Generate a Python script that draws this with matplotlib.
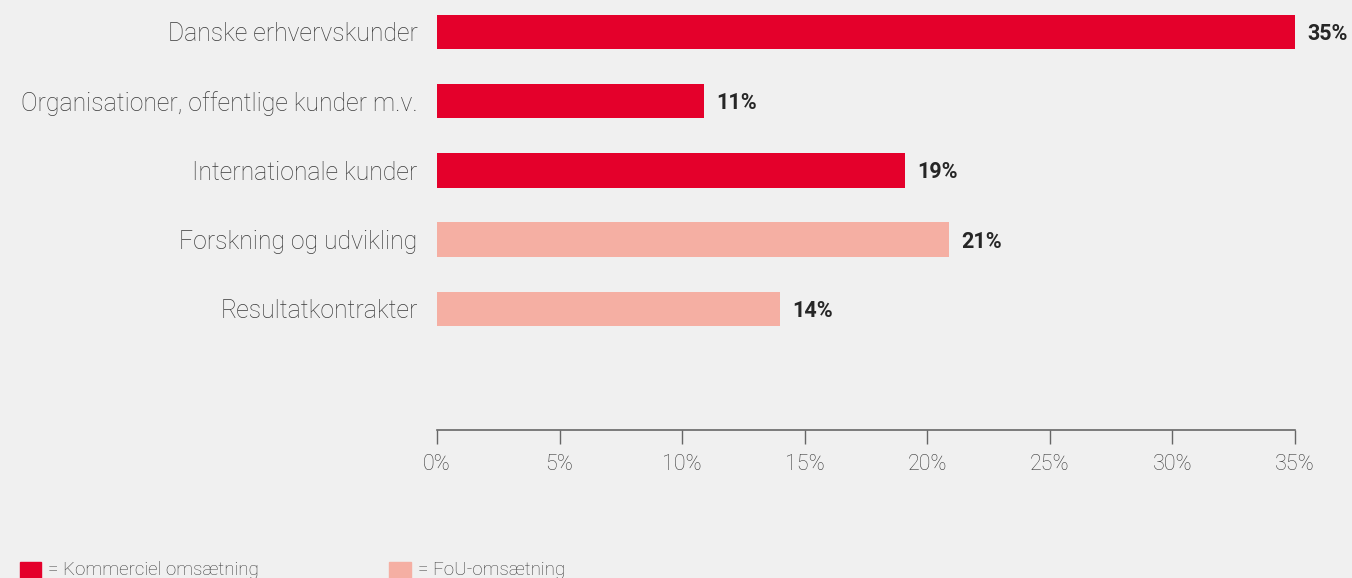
import matplotlib
matplotlib.use("Agg")
import matplotlib.pyplot as plt
from matplotlib.patches import Rectangle

categories = ["Danske erhvervskunder", "Organisationer, offentlige kunder m.v.",
              "Internationale kunder", "Forskning og udvikling", "Resultatkontrakter"]
values = [35.0, 10.9, 19.1, 20.9, 14.0]
value_labels = ["35%", "11%", "19%", "21%", "14%"]
groups = ["kom", "kom", "kom", "fou", "fou"]
legend_labels = ["= Kommerciel omsætning", "= FoU-omsætning"]
xticks = [0, 5, 10, 15, 20, 25, 30, 35]

RED = "#e4002b"
PINK = "#f5afa3"
BG = "#f0f0f0"
colors = [RED if g == "kom" else PINK for g in groups]

plt.rcParams['font.family'] = ['Roboto', 'DejaVu Sans']

fig = plt.figure(figsize=(13.52, 5.78), dpi=100, facecolor=BG)
ax = fig.add_axes([437/1352, (578-430)/578, (1295-437)/1352, 430/578])
ax.set_facecolor(BG)

ypos = list(range(len(categories)))
ax.barh(ypos, values, height=0.5, color=colors)
ax.set_ylim(5.75, -0.46)
ax.set_xlim(0, 35)

for y, v, lab in zip(ypos, values, value_labels):
    ax.text(v + 0.5, y + 0.03, lab, va="center", ha="left", fontsize=15.5,
            fontweight="bold", color="#262626", clip_on=False)

ax.set_yticks(ypos)
ax.set_yticklabels(categories, fontsize=17.8, color="#3a3a3a", fontweight="light")
ax.tick_params(axis="y", length=0, pad=14)

ax.set_xticks(xticks)
ax.set_xticklabels([f"{t}%" for t in xticks], fontsize=15.5, color="#3a3a3a", fontweight="light")
ax.tick_params(axis="x", direction="out", length=10, width=1, color="#666666", pad=7)

for s in ["top", "right", "left"]:
    ax.spines[s].set_visible(False)
ax.spines["bottom"].set_color("#666666")
ax.spines["bottom"].set_linewidth(1.2)

# legend
W, H = 1352, 578
fig.patches.append(Rectangle((20/W, 0), 21/W, 16/H, transform=fig.transFigure,
                             color=RED, figure=fig))
fig.text(48/W, 8/H, legend_labels[0], fontsize=13.5, color="#3a3a3a",
         va="center", ha="left", fontweight="light")
fig.patches.append(Rectangle((389/W, 0), 22/W, 16/H, transform=fig.transFigure,
                             color=PINK, figure=fig))
fig.text(418/W, 8/H, legend_labels[1], fontsize=13.5, color="#3a3a3a",
         va="center", ha="left", fontweight="light")

fig.savefig("out.png", dpi=100, facecolor=BG)
